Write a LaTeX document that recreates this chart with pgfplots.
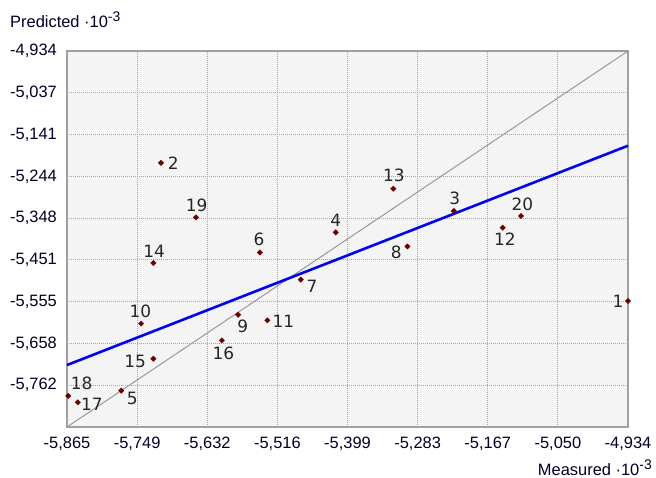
\documentclass[border=0pt]{standalone}
\usepackage{fontspec}
\setmainfont{Liberation Sans}
\newfontfamily\dejavu{DejaVu Sans}
\usepackage{pgfplots}
\pgfplotsset{compat=1.18}
\usepackage{pgfplotstable}
\definecolor{bgplot}{HTML}{F4F4F4}
\definecolor{gridc}{HTML}{A8A8A8}
\definecolor{ptc}{HTML}{6E0000}
\definecolor{framec}{HTML}{A0A0A0}
\definecolor{diagc}{HTML}{999999}

\pgfplotstableread{
x y lab dx dy
-4.934 -5.553 1 -10 0
-5.709 -5.211 2 12.3 0
-5.223 -5.330 3 1 12.3
-5.419 -5.383 4 0 11.6
-5.775 -5.775 5 11 -7.6
-5.545 -5.433 6 -0.7 13
-5.477 -5.500 7 11.3 -6.3
-5.300 -5.418 8 -11.3 -5.4
-5.581 -5.587 9 4.7 -12
-5.742 -5.609 10 -0.7 12
-5.5325 -5.601 11 16 -0.7
-5.142 -5.3715 12 2.3 -11.6
-5.3235 -5.275 13 0.7 13.7
-5.7217 -5.459 14 0.7 11.3
-5.7217 -5.696 15 -18.3 -2.3
-5.608 -5.6505 16 1.6 -13
-5.847 -5.804 17 14 -2
-5.863 -5.788 18 13.4 12.7
-5.651 -5.346 19 0.7 11.6
-5.1116 -5.3426 20 1.3 12
}\pts

\begin{document}
\begin{tikzpicture}
\path[use as bounding box] (-67bp,-51bp) rectangle (589bp,427bp);
\begin{axis}[
  at={(0,0)}, anchor=south west,
  scale only axis, width=561bp, height=376bp,
  xmin=-5.865, xmax=-4.934, ymin=-5.865, ymax=-4.934,
  xtick={-5.865,-5.748625,-5.63225,-5.515875,-5.3995,-5.283125,-5.16675,-5.050375,-4.934},
  xticklabels={{-5,865},{-5,749},{-5,632},{-5,516},{-5,399},{-5,283},{-5,167},{-5,050},{-4,934}},
  ytick={-4.934,-5.037444,-5.140889,-5.244333,-5.347778,-5.451222,-5.554667,-5.658111,-5.761556},
  yticklabels={{-4,934},{-5,037},{-5,141},{-5,244},{-5,348},{-5,451},{-5,555},{-5,658},{-5,762}},
  grid=major,
  major grid style={gridc, line width=0.8bp, dash pattern=on 1bp off 1bp},
  axis background/.style={fill=bgplot},
  axis line style={framec, line width=1.5bp},
  major tick length=0pt,
  tick style={draw=none},
  tick label style={font=\fontsize{16.5}{18}\selectfont, text=black!85!blue},
  xticklabel style={inner sep=0pt, yshift=-10bp},
  yticklabel style={inner sep=0pt, xshift=-10bp},
  clip=false,
]
\addplot[diagc, line width=1bp] coordinates {(-5.865,-5.865) (-4.934,-4.934)};
\addplot[blue, line width=2.6bp] coordinates {(-5.865,-5.7116) (-4.934,-5.1685)};
\addplot[only marks, mark=square*, mark size=1.9bp, mark options={rotate=45}, ptc,
  nodes near coords, point meta=explicit symbolic,
  visualization depends on={\thisrow{dx} \as \lbldx},
  visualization depends on={\thisrow{dy} \as \lbldy},
  every node near coord/.append style={anchor=center, xshift=\lbldx bp, yshift=\lbldy bp,
    font=\dejavu\fontsize{17}{17}\selectfont, text=black!85, inner sep=0pt}]
  table[x=x, y=y, meta=lab] {\pts};
\end{axis}
\node[anchor=base west, inner sep=0pt, font=\fontsize{16.5}{18}\selectfont, text=black!85!blue]
  at (-57bp,399bp) {Predicted ·10\raisebox{6bp}{\fontsize{14}{14}\selectfont -3}};
\node[anchor=base east, inner sep=0pt, font=\fontsize{16.5}{18}\selectfont, text=black!85!blue]
  at (585bp,-48bp) {Measured ·10\raisebox{6bp}{\fontsize{14}{14}\selectfont -3}};
\end{tikzpicture}
\end{document}
